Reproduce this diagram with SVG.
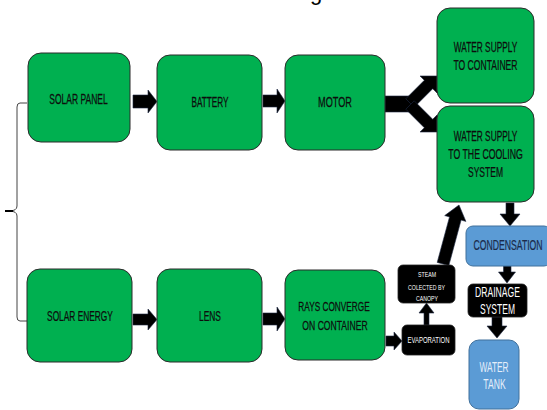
<svg xmlns="http://www.w3.org/2000/svg" width="547" height="410" viewBox="0 0 547 410">
<style>
.g{fill:#00b050;stroke:#2b2b2b;stroke-width:1}
.k{fill:#000;stroke:#222;stroke-width:0.8}
.b{fill:#5b9bd5;stroke:#41719c;stroke-width:1}
text{font-family:"Liberation Sans",Arial,sans-serif;text-anchor:middle}
.t{fill:#0d0d0d;font-size:14px;stroke:#0d0d0d;stroke-width:0.25}
.w{fill:#fff}
.a{fill:#000;stroke:#1f2a44;stroke-width:0.6}
</style>
<rect width="547" height="410" fill="#fff"/>
<text x="316" y="0" style="font-size:22px;fill:#000">g</text>
<g id="connectors">
<path d="M27,103 L20,103 Q17,103 17,107 L17,206 Q17,211 9,211 Q17,211 17,216 L17,317 Q17,321 20,321 L27,321" fill="none" stroke="#444" stroke-width="1"/>
<path d="M5,211 L13,211" stroke="#000" stroke-width="2"/>
<polygon class="a" points="133,95 148,95 148,90 157,101.5 148,113 148,108 133,108"/>
<polygon class="a" points="263,95 277,95 277,89 285,101 277,113 277,107 263,107"/>
<rect class="a" x="385" y="96" width="28" height="16"/>
<polygon class="a" points="405.8,98.8 424.3,80.3 420,76 437,76 437,93 432.7,88.7 414.2,107.2"/>
<polygon class="a" points="405.8,109.2 424.3,127.7 420,132 437,132 437,115 432.7,119.3 414.2,100.8"/>
<polygon class="a" points="133,314 148,314 148,309 157,319.5 148,330 148,325 133,325"/>
<polygon class="a" points="263,313 277,313 277,307 285,319 277,331 277,325 263,325"/>
<polygon class="a" points="386,336 394,336 394,332 402,341 394,350 394,346 386,346"/>
<polygon class="a" points="424,325 424,313 419,313 426.5,303 434,313 429,313 429,325"/>
<polygon class="a" points="437.2,262.4 449.5,216.9 444.7,215.6 459,205 465.9,221.4 461.1,220.1 448.8,265.6"/>
<polygon class="a" points="506,203 514,203 514,214 520,214 510,226 500,214 506,214"/>
<polygon class="a" points="503.5,266 511,266 511,272 515.5,272 507,283 498.5,272 503.5,272"/>
<polygon class="a" points="492,317 502,317 502,326 507,326 497,338 487,326 492,326"/>
</g>
<g id="solar-panel">
<rect class="g" x="28" y="53" width="102" height="89" rx="13"/>
<text class="t" transform="translate(78.5,104) scale(0.607,1)">SOLAR PANEL</text>
</g>
<g id="battery">
<rect class="g" x="157" y="55" width="105" height="95" rx="13"/>
<text class="t" transform="translate(210,107) scale(0.589,1)">BATTERY</text>
</g>
<g id="motor">
<rect class="g" x="285" y="55" width="100" height="95" rx="13"/>
<text class="t" transform="translate(335,107) scale(0.653,1)">MOTOR</text>
</g>
<g id="water-supply-container">
<rect class="g" x="437" y="8" width="97" height="95" rx="13"/>
<text class="t" transform="translate(485.5,52) scale(0.593,1)">WATER SUPPLY</text>
<text class="t" transform="translate(485.5,70) scale(0.614,1)">TO CONTAINER</text>
</g>
<g id="water-supply-cooling">
<rect class="g" x="437" y="106" width="97" height="96" rx="13"/>
<text class="t" transform="translate(485.5,141) scale(0.593,1)">WATER SUPPLY</text>
<text class="t" transform="translate(485.5,159) scale(0.626,1)">TO THE COOLING</text>
<text class="t" transform="translate(485.5,177) scale(0.608,1)">SYSTEM</text>
</g>
<g id="solar-energy">
<rect class="g" x="27" y="269" width="105" height="93" rx="13"/>
<text class="t" transform="translate(80,321) scale(0.597,1)">SOLAR ENERGY</text>
</g>
<g id="lens">
<rect class="g" x="157" y="269" width="105" height="93" rx="13"/>
<text class="t" transform="translate(210,321) scale(0.601,1)">LENS</text>
</g>
<g id="rays-converge">
<rect class="g" x="285" y="270" width="100" height="90" rx="13"/>
<text class="t" style="font-size:13px" transform="translate(334,311) scale(0.635,1)">RAYS CONVERGE</text>
<text class="t" style="font-size:13px" transform="translate(335,330) scale(0.662,1)">ON CONTAINER</text>
</g>
<g id="evaporation">
<rect class="k" x="402" y="325" width="53" height="30" rx="5"/>
<text class="w" style="font-size:8.5px" transform="translate(428.5,343) scale(0.7,1)">EVAPORATION</text>
</g>
<g id="steam">
<rect class="k" x="398" y="265" width="57" height="38" rx="5"/>
<text class="w" style="font-size:7px" transform="translate(427,277) scale(0.747,1)">STEAM</text>
<text class="w" style="font-size:7px" transform="translate(426.5,290) scale(0.749,1)">COLECTED BY</text>
<text class="w" style="font-size:7px" transform="translate(427,301) scale(0.744,1)">CANOPY</text>
</g>
<g id="condensation">
<rect class="b" x="466" y="226" width="85" height="40" rx="7"/>
<text style="font-size:14.5px;fill:#1a2a4a;stroke:#1a2a4a;stroke-width:0.2" transform="translate(508,250) scale(0.599,1)">CONDENSATION</text>
</g>
<g id="drainage">
<rect class="k" x="468" y="284" width="59" height="33" rx="5"/>
<text class="w" style="font-size:14.5px" transform="translate(497.5,297) scale(0.594,1)">DRAINAGE</text>
<text class="w" style="font-size:14.5px" transform="translate(497.5,314) scale(0.587,1)">SYSTEM</text>
</g>
<g id="water-tank">
<rect class="b" x="469" y="340" width="50" height="69" rx="10"/>
<text style="font-size:14px;fill:#e4eefa" transform="translate(494,372) scale(0.593,1)">WATER</text>
<text style="font-size:14px;fill:#e4eefa" transform="translate(494.5,389) scale(0.616,1)">TANK</text>
</g>
</svg>
